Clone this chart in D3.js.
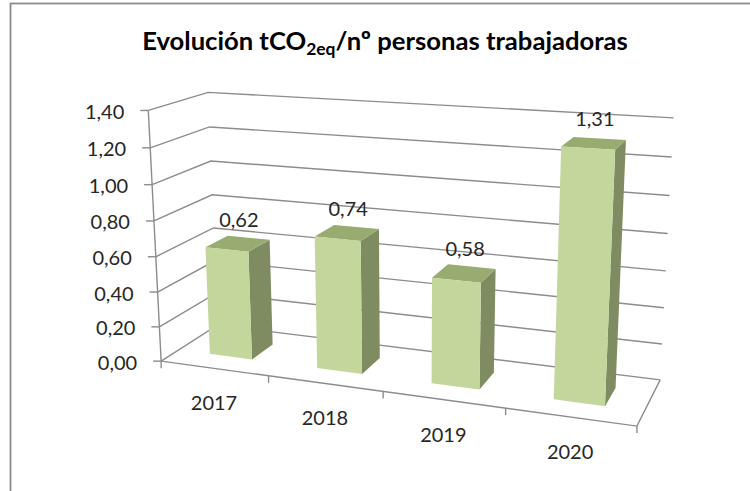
<!DOCTYPE html>
<html><head><meta charset="utf-8">
<script src="https://cdn.jsdelivr.net/npm/d3@7"></script>
<style>html,body{margin:0;padding:0;background:#fff;}svg{display:block;}</style>
</head><body>
<svg id="chart" width="750" height="491"></svg>
<script>
// ---- data ----
const categories = ["2017", "2018", "2019", "2020"];
const values = [0.62, 0.74, 0.58, 1.31];
const valueLabels = ["0,62", "0,74", "0,58", "1,31"];
const yTicks = [0, 0.2, 0.4, 0.6, 0.8, 1.0, 1.2, 1.4];
const yTickLabels = ["0,00", "0,20", "0,40", "0,60", "0,80", "1,00", "1,20", "1,40"];

// ---- 3D world scales ----
const x = d3.scaleBand().domain(categories).range([0, 4]).paddingInner(0.6).paddingOuter(0.3);
const y = d3.scaleLinear().domain([0, 1.4]).range([0, 1]);
const zFront = 0.3, zBack = 0.7;

// perspective camera calibration anchors (world X, value, Z -> pixel)
const anchors = [
  [0, 0, 0, 161.7, 361.7], [0, 1.4, 0, 148.3, 110], [0, 0.6, 0, 156, 256],
  [0, 1.4, 1, 208.3, 92.7], [0, 1.0, 1, 210.7, 161], [0, 0.8, 1, 211.7, 195],
  [4, 0, 0, 636.7, 426.7], [4, 0, 1, 660, 380], [4, 1.4, 1, 673.3, 118.3], [4, 0.6, 1, 666.7, 270.7],
  [1, 0, 0, 268.3, 376.7], [2, 0, 0, 383.3, 392], [3, 0, 0, 505, 409],
  [0.3, 0, 0.3, 210, 354], [0.7, 0, 0.3, 251.7, 358.3], [3.3, 0, 0.3, 554, 398.3], [3.7, 0, 0.3, 605, 405]
];
function fitCamera(pts) {
  const A = [], b = [];
  pts.forEach(([X, V, Z, u, v]) => {
    const Y = y(V), un = (u - 400) / 200, vn = (v - 250) / 200;
    A.push([X, Y, Z, 1, 0, 0, 0, 0, -un * X, -un * Y, -un * Z]); b.push(un);
    A.push([0, 0, 0, 0, X, Y, Z, 1, -vn * X, -vn * Y, -vn * Z]); b.push(vn);
  });
  const n = 11, M = [];
  for (let i = 0; i < n; i++) {
    M.push(new Array(n + 1).fill(0));
    for (let j = 0; j < n; j++) for (let k = 0; k < A.length; k++) M[i][j] += A[k][i] * A[k][j];
    for (let k = 0; k < A.length; k++) M[i][n] += A[k][i] * b[k];
  }
  for (let c = 0; c < n; c++) {
    let p = c;
    for (let r = c + 1; r < n; r++) if (Math.abs(M[r][c]) > Math.abs(M[p][c])) p = r;
    [M[c], M[p]] = [M[p], M[c]];
    for (let r = 0; r < n; r++) if (r !== c) {
      const f = M[r][c] / M[c][c];
      for (let k = c; k <= n; k++) M[r][k] -= f * M[c][k];
    }
  }
  return M.map((row, i) => row[n] / row[i]);
}
const P = fitCamera(anchors);
function proj(X, V, Z) {
  const Y = y(V);
  const w = P[8] * X + P[9] * Y + P[10] * Z + 1;
  const u = (P[0] * X + P[1] * Y + P[2] * Z + P[3]) / w;
  const v = (P[4] * X + P[5] * Y + P[6] * Z + P[7]) / w;
  return [u * 200 + 400, v * 200 + 250];
}

const svg = d3.select("#chart");
const font = "Lato, 'Open Sans', sans-serif";
const gridColor = "#8c8c8c";
const line = d3.line();

// outer frame
svg.append("rect").attr("x", 10.5).attr("y", 3.5).attr("width", 800).attr("height", 600)
  .attr("fill", "none").attr("stroke", "#8a8a8a").attr("stroke-width", 1.8);

// title
const title = svg.append("text").attr("x", 385).attr("y", 50).attr("text-anchor", "middle")
  .attr("font-family", font).attr("font-weight", "bold").attr("font-size", 24).attr("fill", "#000");
title.append("tspan").text("Evolución tCO");
title.append("tspan").attr("font-size", "0.68em").attr("dy", 5).text("2eq");
title.append("tspan").attr("dy", -5).text("/nº personas trabajadoras");
const tw = title.node().getComputedTextLength();
title.attr("font-size", Math.min(26, 24 * 486 / tw));

// gridlines (left wall + back wall)
const xMax = x.range()[1];
yTicks.forEach(t => {
  svg.append("path").attr("d", line([proj(0, t, 0), proj(0, t, 1), proj(xMax, t, 1)]))
    .attr("fill", "none").attr("stroke", gridColor).attr("stroke-width", 1.4);
});
// floor outline
svg.append("path").attr("d", line([proj(0, 0, 0), proj(xMax, 0, 0), proj(xMax, 0, 1)]))
  .attr("fill", "none").attr("stroke", gridColor).attr("stroke-width", 1.4);
// value axis
svg.append("path").attr("d", line([proj(0, 0, 0), proj(0, 1.4, 0)]))
  .attr("fill", "none").attr("stroke", gridColor).attr("stroke-width", 1.4);
yTicks.forEach((t, i) => {
  const [px, py] = proj(0, t, 0);
  svg.append("line").attr("x1", px - 8).attr("x2", px).attr("y1", py).attr("y2", py)
    .attr("stroke", gridColor).attr("stroke-width", 1.4);
  svg.append("text").attr("x", px - 24).attr("y", py + 8.5).attr("text-anchor", "end")
    .attr("font-family", font).attr("font-size", 20).attr("fill", "#262626").text(yTickLabels[i]);
});
// category ticks + labels
const step = x.step();
d3.range(categories.length + 1).forEach(i => {
  const [px, py] = proj(i * step, 0, 0);
  svg.append("line").attr("x1", px).attr("x2", px).attr("y1", py).attr("y2", py + 7)
    .attr("stroke", gridColor).attr("stroke-width", 1.4);
});
categories.forEach((c, i) => {
  const [px, py] = proj(x(c) + x.bandwidth() / 2, 0, 0);
  svg.append("text").attr("x", px).attr("y", py + 42).attr("text-anchor", "middle")
    .attr("font-family", font).attr("font-size", 20).attr("fill", "#262626").text(c);
});

// bars
const poly = pts => line(pts) + "Z";
categories.forEach((c, i) => {
  const x0 = x(c), x1 = x(c) + x.bandwidth(), h = values[i];
  const g = svg.append("g");
  g.append("path").attr("d", poly([proj(x1, 0, zFront), proj(x1, 0, zBack), proj(x1, h, zBack), proj(x1, h, zFront)]))
    .attr("fill", "#7f8b60");
  g.append("path").attr("d", poly([proj(x0, h, zFront), proj(x1, h, zFront), proj(x1, h, zBack), proj(x0, h, zBack)]))
    .attr("fill", "#98ab70");
  g.append("path").attr("d", poly([proj(x0, 0, zFront), proj(x1, 0, zFront), proj(x1, h, zFront), proj(x0, h, zFront)]))
    .attr("fill", "#c3d69b");
  const [lx, ly] = proj((x0 + x1) / 2, h, (zFront + zBack) / 2);
  svg.append("text").attr("x", lx + 1).attr("y", ly - 17).attr("text-anchor", "middle")
    .attr("font-family", font).attr("font-size", 20).attr("fill", "#262626").text(valueLabels[i]);
});
</script>
</body></html>
